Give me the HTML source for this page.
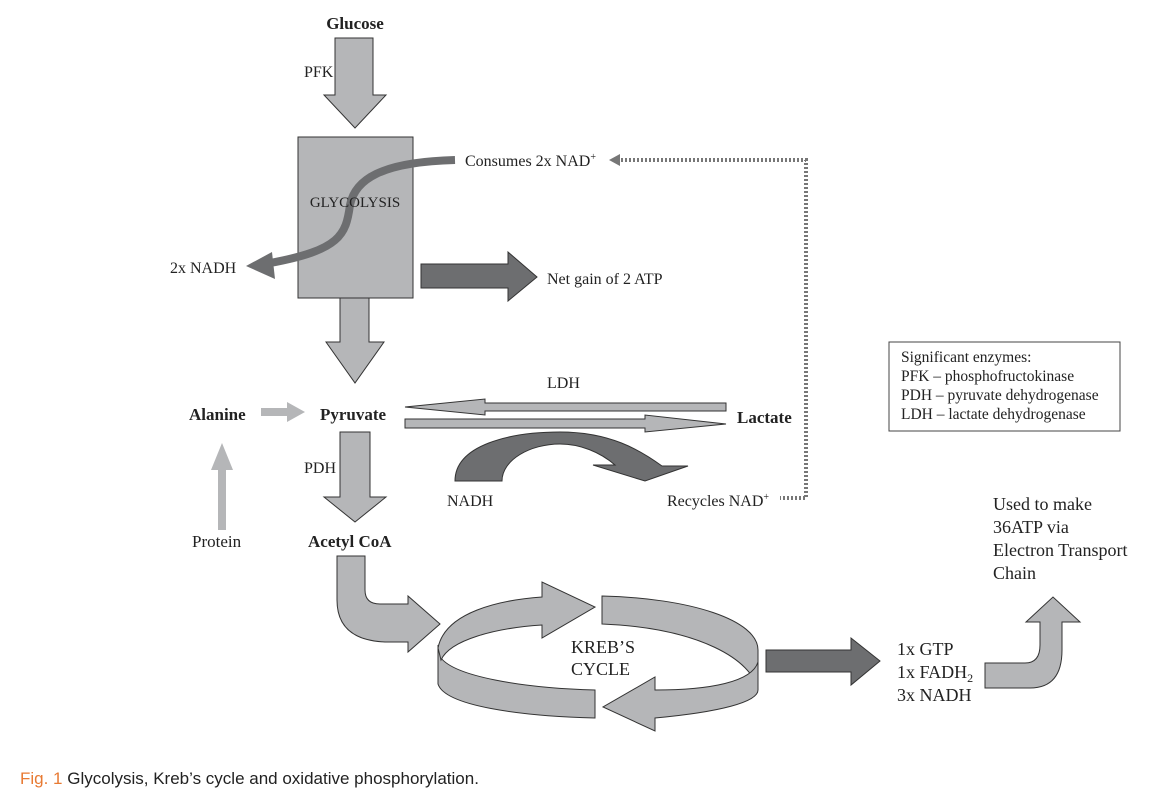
<!DOCTYPE html>
<html><head><meta charset="utf-8"><style>
html,body{margin:0;padding:0;background:#fff;}
svg{display:block;}
.t{font-family:"Liberation Serif",serif;fill:#222;}
.b{font-weight:bold;}
</style></head><body>
<svg width="1156" height="802" viewBox="0 0 1156 802" xmlns="http://www.w3.org/2000/svg">
<g stroke="#333" stroke-width="1" fill="#b5b6b8">
<path d="M335,38 L373,38 L373,95 L386,95 L355,128 L324,95 L335,95 Z"/>
<rect x="298" y="137" width="115" height="161"/>
<path d="M340,298 L369,298 L369,342 L384,342 L355,383 L326,342 L340,342 Z"/>
<path d="M340,432 L370,432 L370,497 L386,497 L355,522 L324,497 L340,497 Z"/>
<path d="M726,403 L485,403 L485,399 L405,407 L485,415 L485,411 L726,411 Z"/>
<path d="M405,419 L645,419 L645,415 L726,424 L645,432 L645,428 L405,428 Z"/>
<path d="M337,556 L365,556 L365,590 Q365,604 380,604 L408,604 L408,596 L440,624 L408,652 L408,642 L385,642 Q337,640 337,600 Z"/>
<path d="M438,645 L438,684 C445,706 520,716 595,718 L595,690 C520,688 455,676 441,658 Z"/>
<path d="M438,648 C445,612 500,600 542,597 L542,582 L595,607 L542,638 L542,625 C495,628 450,640 441,660 Z"/>
<path d="M602,596 C690,598 758,620 758,650 L758,690 C752,660 700,628 602,624 Z"/>
<path d="M758,662 C752,682 710,690 655,690 L655,677 L603,707 L655,731 L655,718 C720,712 758,702 758,690 Z"/>
<path d="M985,663 L1025,663 Q1040,663 1040,645 L1040,622 L1026,622 L1053,597 L1080,622 L1062,622 L1062,650 Q1062,688 1030,688 L985,688 Z"/>
</g>
<g fill="#b5b6b8">
<path d="M261,408 L287,408 L287,402 L305,412 L287,422 L287,416 L261,416 Z"/>
<path d="M218,530 L226,530 L226,470 L233,470 L222,443 L211,470 L218,470 Z"/>
</g>
<g fill="#6d6e70" stroke="#333" stroke-width="1">
<path d="M421,264 L508,264 L508,252 L537,277 L508,301 L508,288 L421,288 Z"/>
<path d="M766,650 L851,650 L851,638 L880,661 L851,685 L851,672 L766,672 Z"/>
<path d="M455,481 C455,445 510,432 560,432 C610,432 640,450 662,466 L688,466 L645,481 L593,465 L615,465 C600,452 580,444 560,444 C530,444 502,460 502,481 Z"/>
</g>
<path d="M455,160 C380,162 355,180 350,205 C346,235 340,250 270,263" fill="none" stroke="#6d6e70" stroke-width="8"/>
<path d="M246,266 L272,252 L275,279 Z" fill="#6d6e70"/>
<path d="M617,160 L806,160 L806,498 L780,498" fill="none" stroke="#777" stroke-width="4" stroke-dasharray="2,2"/>
<path d="M609,160 L620,154 L620,166 Z" fill="#777"/>
<g class="t" font-size="16">
<text x="355" y="29" text-anchor="middle" class="b" font-size="17">Glucose</text>
<text x="304" y="77">PFK</text>
<text x="355" y="207" text-anchor="middle" font-size="15">GLYCOLYSIS</text>
<text x="465" y="166">Consumes 2x NAD<tspan font-size="10" dy="-6">+</tspan></text>
<text x="170" y="273">2x NADH</text>
<text x="547" y="284">Net gain of 2 ATP</text>
<text x="547" y="388">LDH</text>
<text x="189" y="420" class="b" font-size="17">Alanine</text>
<text x="320" y="420" class="b" font-size="17">Pyruvate</text>
<text x="737" y="423" class="b" font-size="17">Lactate</text>
<text x="304" y="473">PDH</text>
<text x="447" y="506">NADH</text>
<text x="667" y="506">Recycles NAD<tspan font-size="10" dy="-6">+</tspan></text>
<text x="192" y="547" font-size="17">Protein</text>
<text x="308" y="547" class="b" font-size="17">Acetyl CoA</text>
<text x="571" y="653" font-size="18">KREB’S</text>
<text x="571" y="675" font-size="18">CYCLE</text>
<text x="897" y="655" font-size="18">1x GTP</text>
<text x="897" y="678" font-size="18">1x FADH<tspan font-size="12" dy="4">2</tspan></text>
<text x="897" y="701" font-size="18">3x NADH</text>
<text x="993" y="510" font-size="18">Used to make</text>
<text x="993" y="533" font-size="18">36ATP via</text>
<text x="993" y="556" font-size="18">Electron Transport</text>
<text x="993" y="579" font-size="18">Chain</text>
</g>
<rect x="889" y="342" width="231" height="89" fill="none" stroke="#444" stroke-width="1"/>
<g class="t" font-size="15.5">
<text x="901" y="362">Significant enzymes:</text>
<text x="901" y="381">PFK – phosphofructokinase</text>
<text x="901" y="400">PDH – pyruvate dehydrogenase</text>
<text x="901" y="419">LDH – lactate dehydrogenase</text>
</g>
<text x="20" y="784" font-family="'Liberation Sans',sans-serif" font-size="17" fill="#222"><tspan fill="#e87a33">Fig. 1</tspan>  Glycolysis, Kreb’s cycle and oxidative phosphorylation.</text>
</svg>
</body></html>
